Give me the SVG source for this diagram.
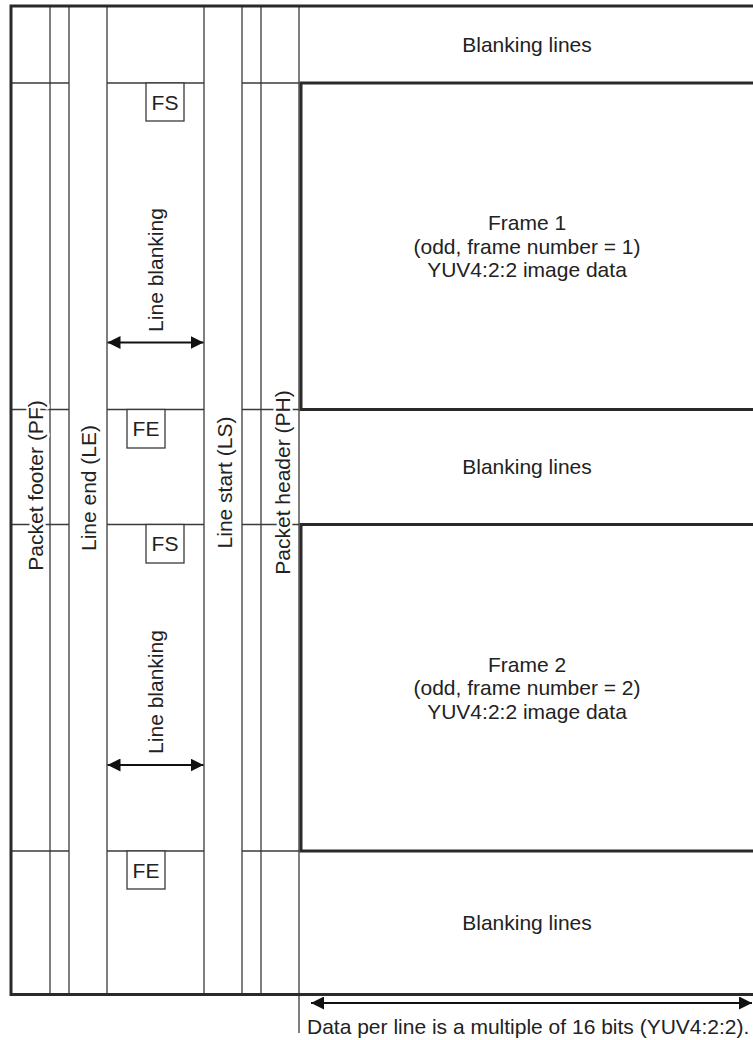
<svg xmlns="http://www.w3.org/2000/svg" width="753" height="1040" viewBox="0 0 753 1040">
<style>
text{font-family:"Liberation Sans",Arial,sans-serif;font-size:21px;fill:#222}
.c{text-anchor:middle}
.thin{stroke:#3a3a3a;stroke-width:1.3;fill:none}
.thick{stroke:#2a2a2a;stroke-width:3;fill:none}
.halo{stroke:#fff;stroke-width:5;paint-order:stroke;stroke-linejoin:round}
.box{stroke:#3a3a3a;stroke-width:1.3;fill:#fff}
.arr{stroke:#111;stroke-width:1.8;fill:none;marker-start:url(#ah);marker-end:url(#ah)}
</style>
<defs>
<marker id="ah" viewBox="0 0 13 13" refX="13" refY="6.5" markerWidth="13" markerHeight="13" markerUnits="userSpaceOnUse" orient="auto-start-reverse">
<path d="M0,0 L13,6.5 L0,13 Z" fill="#111"/>
</marker>
</defs>
<rect width="753" height="1040" fill="#fff"/>
<g id="grid">
<line class="thin" x1="50" y1="6" x2="50" y2="994"/>
<line class="thin" x1="69" y1="6" x2="69" y2="994"/>
<line class="thin" x1="107" y1="6" x2="107" y2="994"/>
<line class="thin" x1="204" y1="6" x2="204" y2="994"/>
<line class="thin" x1="242" y1="6" x2="242" y2="994"/>
<line class="thin" x1="261" y1="6" x2="261" y2="994"/>
<line class="thin" x1="299" y1="6" x2="299" y2="1033"/>
<path class="thin" d="M11,83H69M107,83H204M242,83H299M11,409.5H69M107,409.5H204M242,409.5H299M11,524.5H69M107,524.5H204M242,524.5H299M11,851H69M107,851H204M242,851H299"/>
</g>
<g id="frame1"><rect class="thick" x="301" y="83" width="460" height="326.5"/>
<text class="c" x="527" y="230">Frame 1</text>
<text class="c" x="527" y="253.5">(odd, frame number = 1)</text>
<text class="c" x="527" y="277">YUV4:2:2 image data</text></g>
<g id="frame2"><rect class="thick" x="301" y="524.5" width="460" height="326.5"/>
<text class="c" x="527" y="671.5">Frame 2</text>
<text class="c" x="527" y="695">(odd, frame number = 2)</text>
<text class="c" x="527" y="718.5">YUV4:2:2 image data</text></g>
<g id="blank1"><text class="c" x="527" y="52">Blanking lines</text></g>
<g id="blank2"><text class="c" x="527" y="474">Blanking lines</text></g>
<g id="blank3"><text class="c" x="527" y="930">Blanking lines</text></g>
<g id="border"><path class="thick" d="M753,6H11V994.5H753"/></g>
<g id="pf"><text class="c halo" transform="translate(42.5,485.5) rotate(-90)">Packet footer (PF)</text></g>
<g id="le"><text class="c halo" transform="translate(96,488) rotate(-90)">Line end (LE)</text></g>
<g id="ls"><text class="c halo" transform="translate(231.5,482.5) rotate(-90)">Line start (LS)</text></g>
<g id="ph"><text class="c halo" transform="translate(290,482.5) rotate(-90)">Packet header (PH)</text></g>
<g id="lb1"><text class="c" transform="translate(162.5,270) rotate(-90)">Line blanking</text></g>
<g id="lb2"><text class="c" transform="translate(162.5,692) rotate(-90)">Line blanking</text></g>
<g id="fs1"><rect class="box" x="146" y="83" width="38" height="38"/><text class="c" x="165" y="110">FS</text></g>
<g id="fe1"><rect class="box" x="127" y="409.5" width="38" height="38.5"/><text class="c" x="146" y="436">FE</text></g>
<g id="fs2"><rect class="box" x="146" y="524.5" width="38" height="38.5"/><text class="c" x="165" y="551">FS</text></g>
<g id="fe2"><rect class="box" x="127" y="851" width="38" height="38"/><text class="c" x="146" y="877.5">FE</text></g>
<g id="connectors">
<line class="arr" x1="107.5" y1="342.5" x2="203.5" y2="342.5"/>
<line class="arr" x1="107.5" y1="765" x2="203.5" y2="765"/>
<line class="arr" x1="311" y1="1003" x2="752" y2="1003"/>
</g>
<g id="note"><text x="307" y="1034">Data per line is a multiple of 16 bits (YUV4:2:2).</text></g>
</svg>
